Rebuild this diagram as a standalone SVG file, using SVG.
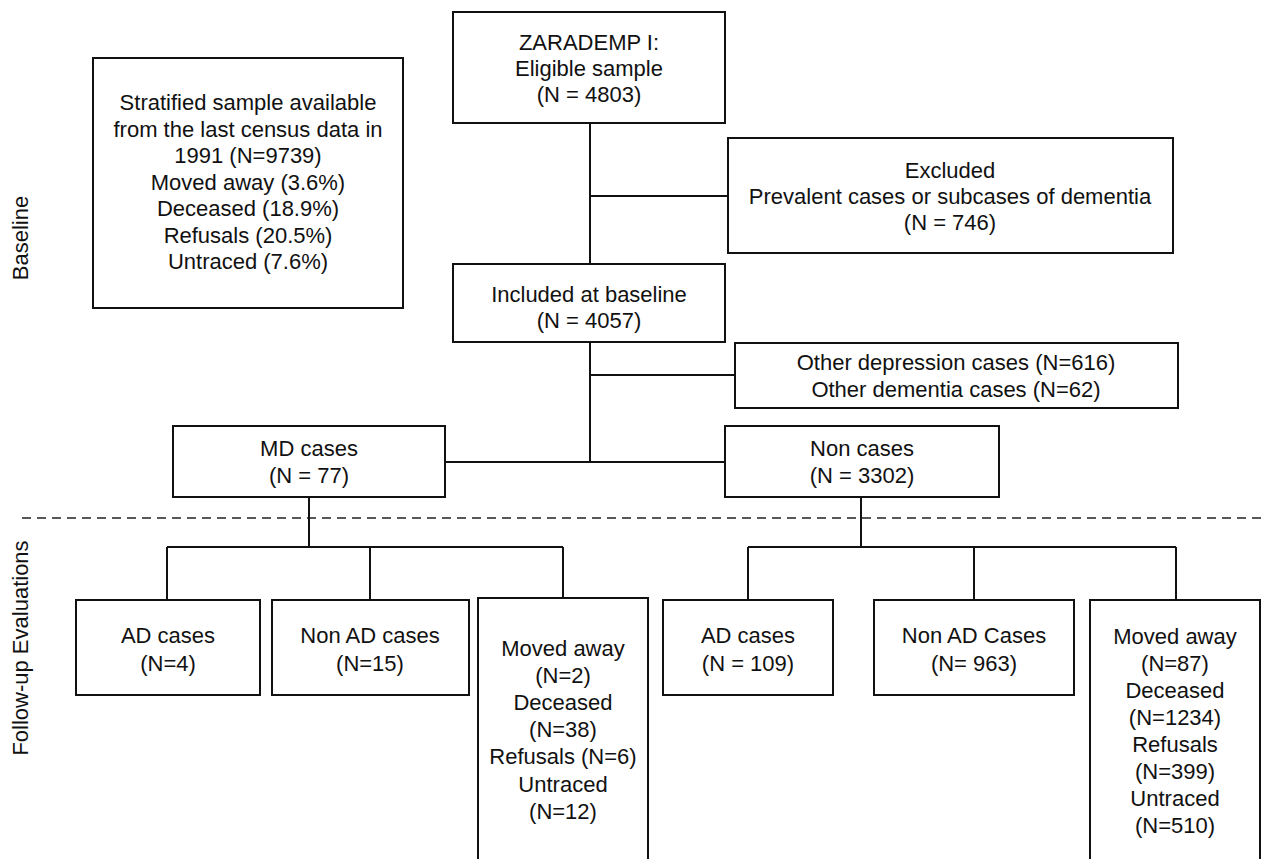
<svg xmlns="http://www.w3.org/2000/svg" width="1261" height="859" viewBox="0 0 1261 859">
<style>
.box{fill:#fff;stroke:#111;stroke-width:2}
.ln{stroke:#111;stroke-width:2;fill:none}
.dash{stroke:#222;stroke-width:1.6;stroke-dasharray:9 6;fill:none}
text{font-family:"Liberation Sans",Arial,sans-serif;font-size:22px;fill:#111;text-anchor:middle}
</style>
<rect width="1261" height="859" fill="#fff"/>
<g id="labels">
<text transform="translate(28,238) rotate(-90)">Baseline</text>
<text transform="translate(28,648) rotate(-90)">Follow-up Evaluations</text>
</g>
<line class="dash" x1="22" y1="518" x2="1261" y2="518"/>
<g id="connectors">
<path class="ln" d="M590,123V264M590,196H728M590,342V462M590,375H735M445,462H725"/>
<path class="ln" d="M309,497V547M167,547H563M167,547V600M370,547V600M563,547V598"/>
<path class="ln" d="M861,497V547M748,547H1176M748,547V600M974,547V600M1176,547V600"/>
</g>
<g id="n-eligible"><rect class="box" x="453" y="12" width="272" height="111"/>
<text x="589" y="50">ZARADEMP I:</text><text x="589" y="76">Eligible sample</text><text x="589" y="102">(N = 4803)</text></g>
<g id="n-stratified"><rect class="box" x="93" y="58" width="310" height="250"/>
<text x="248" y="110">Stratified sample available</text><text x="248" y="137">from the last census data in</text><text x="248" y="163">1991 (N=9739)</text><text x="248" y="190">Moved away (3.6%)</text><text x="248" y="216">Deceased (18.9%)</text><text x="248" y="243">Refusals (20.5%)</text><text x="248" y="269">Untraced (7.6%)</text></g>
<g id="n-excluded"><rect class="box" x="728" y="138" width="445" height="115"/>
<text x="950" y="178">Excluded</text><text x="950" y="204">Prevalent cases or subcases of dementia</text><text x="950" y="230">(N = 746)</text></g>
<g id="n-included"><rect class="box" x="453" y="264" width="272" height="78"/>
<text x="589" y="302">Included at baseline</text><text x="589" y="328">(N = 4057)</text></g>
<g id="n-other"><rect class="box" x="735" y="343" width="443" height="65"/>
<text x="956" y="370">Other depression cases (N=616)</text><text x="956" y="397">Other dementia cases (N=62)</text></g>
<g id="n-md"><rect class="box" x="173" y="426" width="272" height="71"/>
<text x="309" y="456">MD cases</text><text x="309" y="483">(N = 77)</text></g>
<g id="n-non"><rect class="box" x="725" y="426" width="274" height="71"/>
<text x="862" y="456">Non cases</text><text x="862" y="483">(N = 3302)</text></g>
<g id="n-ad1"><rect class="box" x="76" y="600" width="184" height="95"/>
<text x="168" y="643">AD cases</text><text x="168" y="671">(N=4)</text></g>
<g id="n-nonad1"><rect class="box" x="272" y="600" width="197" height="95"/>
<text x="370" y="643">Non AD cases</text><text x="370" y="671">(N=15)</text></g>
<g id="n-moved1"><rect class="box" x="478" y="598" width="170" height="262"/>
<text x="563" y="656">Moved away</text><text x="563" y="683">(N=2)</text><text x="563" y="710">Deceased</text><text x="563" y="737">(N=38)</text><text x="563" y="764">Refusals (N=6)</text><text x="563" y="792">Untraced</text><text x="563" y="819">(N=12)</text></g>
<g id="n-ad2"><rect class="box" x="663" y="600" width="170" height="95"/>
<text x="748" y="643">AD cases</text><text x="748" y="671">(N = 109)</text></g>
<g id="n-nonad2"><rect class="box" x="874" y="600" width="200" height="95"/>
<text x="974" y="643">Non AD Cases</text><text x="974" y="671">(N= 963)</text></g>
<g id="n-moved2"><rect class="box" x="1090" y="600" width="170" height="260"/>
<text x="1175" y="644">Moved away</text><text x="1175" y="671">(N=87)</text><text x="1175" y="698">Deceased</text><text x="1175" y="725">(N=1234)</text><text x="1175" y="752">Refusals</text><text x="1175" y="779">(N=399)</text><text x="1175" y="806">Untraced</text><text x="1175" y="833">(N=510)</text></g>
</svg>
